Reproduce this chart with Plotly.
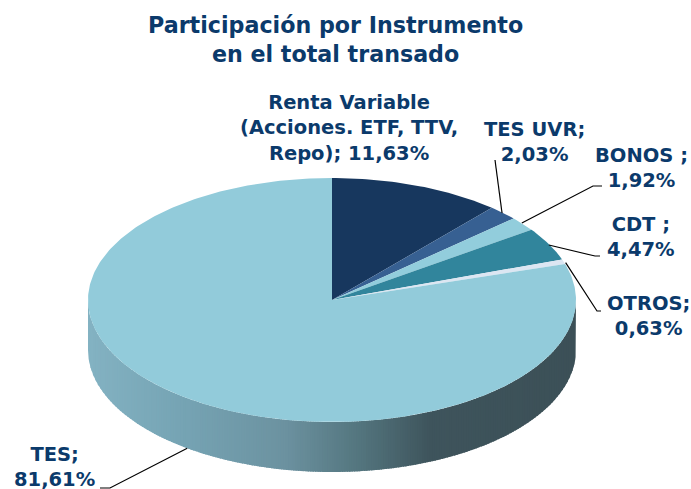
import math
import plotly.graph_objects as go

# ---- data ----
categories = ["Renta Variable<br>(Acciones. ETF, TTV,<br>Repo)", "TES UVR", "BONOS", "CDT", "OTROS", "TES"]
values = [11.63, 2.03, 1.92, 4.47, 0.63, 81.61]
slice_colors = ["#17375E", "#376092", "#92CDDC", "#31859C", "#DCE6F2", "#92CBDA"]
title_text = "Participación por Instrumento<br>en el total transado"

# ---- layout constants (pixels) ----
W, H = 691, 489
CX, CY, RX, RY, DEPTH = 332, 300, 244, 122, 50
TEXT = "#0B3A6B"
FONT = "DejaVu Sans"
SIZE = 19.5
label_style = {
    "Renta Variable<br>(Acciones. ETF, TTV,<br>Repo)": (349, 128, "; "),
    "TES UVR": (534, 142, ";<br>"),
    "BONOS": (641, 168, " ;<br>"),
    "CDT": (641, 237, " ;<br>"),
    "OTROS": (648, 316, ";<br>"),
    "TES": (54, 467, ";<br>"),
}
# leader: nudge of the anchor from the slice's mid-angle rim point, then elbow points
leaders = {
    "TES UVR": ((-1, 0), [(495, 160)]),
    "BONOS": ((-1, -1), [(593, 186), (602, 186)]),
    "CDT": ((0, 1), [(595, 256), (600, 256)]),
    "OTROS": ((2, 1), [(597, 311), (601, 311)]),
    "TES": ((0, 0), [(110, 488), (100, 488)]),
}
# wall gradient: (fraction across the pie's width, colour)
wall_stops = [(0.0, (131, 178, 194)), (0.2, (117, 163, 179)), (0.4, (108, 146, 160)),
              (0.55, (84, 118, 127)), (0.7, (62, 84, 92)), (1.0, (60, 80, 87))]


def pt(a, dy=0.0):
    return CX + RX * math.sin(a), CY + dy - RY * math.cos(a)


def wall_color(f):
    for (f0, c0), (f1, c1) in zip(wall_stops, wall_stops[1:]):
        if f <= f1:
            t = (f - f0) / (f1 - f0)
            return "rgb(%d,%d,%d)" % tuple(round(a + (b - a) * t) for a, b in zip(c0, c1))
    return "rgb(%d,%d,%d)" % wall_stops[-1][1]


fig = go.Figure()

# side wall, drawn as narrow vertical strips along the front of the rim
N = 200
for i in range(N):
    x0 = -1 + 2 * i / N
    x1 = min(1, -1 + 2 * (i + 1.6) / N)
    xs = [x0 + (x1 - x0) * k / 6 for k in range(7)]
    top = [(CX + RX * x, CY + RY * math.sqrt(max(0, 1 - x * x))) for x in xs]
    bot = [(px, py + DEPTH) for px, py in reversed(top)]
    poly = top + bot
    fig.add_trace(go.Scatter(x=[p[0] for p in poly], y=[p[1] for p in poly], mode="lines",
                             fill="toself", fillcolor=wall_color((x0 + 1) / 2),
                             line=dict(width=0), hoverinfo="skip", showlegend=False))

# top face slices, angles taken from the values
total = sum(values)
start = 0.0
mids = {}
for name, v, col in zip(categories, values, slice_colors):
    a0 = start / total * 2 * math.pi
    a1 = (start + v) / total * 2 * math.pi
    n = max(4, int(v * 4))
    arc = [pt(a0 + (a1 - a0) * k / n) for k in range(n + 1)]
    poly = [(CX, CY)] + arc + [(CX, CY)]
    fig.add_trace(go.Scatter(x=[p[0] for p in poly], y=[p[1] for p in poly], mode="lines",
                             fill="toself", fillcolor=col, line=dict(width=0),
                             name=name.replace("<br>", " "), showlegend=False,
                             hoverinfo="name"))
    mids[name] = (a0 + a1) / 2
    start += v

# leader lines
for name, (nudge, elbow) in leaders.items():
    dy = DEPTH if math.cos(mids[name]) < 0 else 0
    ax, ay = pt(mids[name], dy)
    xs = [ax + nudge[0]] + [p[0] for p in elbow]
    ys = [ay + nudge[1]] + [p[1] for p in elbow]
    fig.add_trace(go.Scatter(x=xs, y=ys, mode="lines", line=dict(color="#000000", width=1.2),
                             hoverinfo="skip", showlegend=False))

# data labels
annotations = []
for name, v in zip(categories, values):
    x, y, sep = label_style[name]
    txt = name + sep + ("%.2f" % v).replace(".", ",") + "%"
    annotations.append(dict(x=x, y=y, xref="x", yref="y", text="<b>%s</b>" % txt, showarrow=False,
                            align="center", font=dict(family=FONT, size=SIZE, color=TEXT)))
annotations.append(dict(x=335, y=39, xref="x", yref="y", text="<b>%s</b>" % title_text, showarrow=False,
                        align="center", font=dict(family=FONT, size=22.2, color=TEXT)))

fig.update_layout(
    width=W, height=H, margin=dict(l=0, r=0, t=0, b=0), paper_bgcolor="white", plot_bgcolor="white",
    xaxis=dict(range=[0, W], visible=False, fixedrange=True),
    yaxis=dict(range=[H, 0], visible=False, fixedrange=True),
    annotations=annotations, showlegend=False,
)
fig.write_html("out.html", post_script="document.body.style.margin='0';", config={"displayModeBar": False})
